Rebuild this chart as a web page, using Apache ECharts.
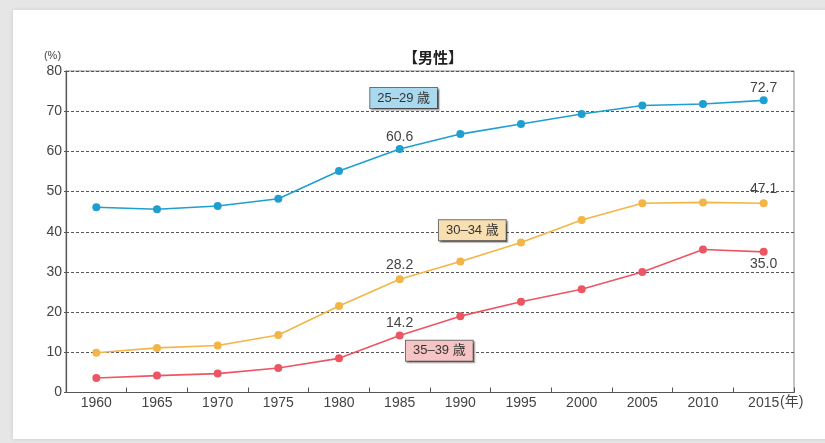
<!DOCTYPE html>
<html>
<head>
<meta charset="utf-8">
<script src="https://cdn.jsdelivr.net/npm/echarts@6/dist/echarts.min.js"></script>
<style>
  html, body { margin: 0; padding: 0; background: #e6e6e6; }
  #chart { width: 825px; height: 443px; }
</style>
</head>
<body>
<div id="chart"></div>
<script>
// Survey years on the x axis
const years = ['1960', '1965', '1970', '1975', '1980', '1985', '1990', '1995', '2000', '2005', '2010', '2015'];

// Unmarried rate of men by age group (%)
const age25to29 = [46.1, 45.6, 46.4, 48.2, 55.1, 60.6, 64.3, 66.8, 69.3, 71.4, 71.8, 72.7];
const age30to34 = [9.9, 11.1, 11.7, 14.3, 21.5, 28.2, 32.6, 37.3, 42.9, 47.1, 47.3, 47.1];
const age35to39 = [3.6, 4.2, 4.7, 6.1, 8.5, 14.2, 19.0, 22.6, 25.7, 30.0, 35.6, 35.0];

// Points whose values are printed on the chart, with label side
const labelled25 = { '1985': 'top', '2015': 'top' };
const labelled30 = { '1985': 'top', '2015': 'top' };
const labelled35 = { '1985': 'top', '2015': 'bottom' };

const yTicks = [0, 10, 20, 30, 40, 50, 60, 70, 80];

const FONT = '"Liberation Sans", Arial, "Noto Sans CJK JP", sans-serif';

function withLabels(values, marks, dist) {
  return values.map((v, i) => {
    const pos = marks[years[i]];
    if (!pos) return v;
    return {
      value: v,
      label: {
        show: true,
        position: pos,
        distance: pos === 'top' ? dist : 1,
        formatter: (p) => p.value.toFixed(1),
        color: '#444',
        fontSize: 14,
        fontFamily: FONT
      }
    };
  });
}

function nameTag(text, fill, coord, offset) {
  return {
    silent: true,
    symbol: 'rect',
    symbolSize: [1, 1],
    itemStyle: { color: 'rgba(0,0,0,0)' },
    label: {
      show: true,
      position: 'inside',
      formatter: text,
      color: '#333',
      fontSize: 13,
      fontFamily: FONT,
      backgroundColor: fill,
      borderColor: '#6f6f6f',
      borderWidth: 1,
      padding: [4, 7, 3, 7],
      shadowColor: 'rgba(0,0,0,0.35)',
      shadowOffsetX: 1.5,
      shadowOffsetY: 1.5,
      shadowBlur: 1
    },
    data: [{ coord: coord, label: { offset: offset } }]
  };
}

function lineSeries(name, values, color, marks, dist, tag) {
  return {
    name: name,
    type: 'line',
    data: withLabels(values, marks, dist),
    symbol: 'circle',
    symbolSize: 8,
    lineStyle: { color: color, width: 1.6 },
    itemStyle: { color: color },
    markPoint: tag,
    z: 3
  };
}

const chart = echarts.init(document.getElementById('chart'), null, { renderer: 'canvas' });

chart.setOption({
  animation: false,
  backgroundColor: 'transparent',
  graphic: [{
    type: 'rect',
    shape: { x: 13, y: 10, width: 830, height: 429 },
    style: { fill: '#ffffff', shadowColor: 'rgba(0,0,0,0.12)', shadowBlur: 4 },
    z: -10,
    silent: true
  }],
  title: {
    text: '【男性】',
    left: 428,
    top: 46,
    textAlign: 'center',
    textStyle: { fontSize: 15, fontWeight: 'bold', color: '#222', fontFamily: FONT }
  },
  grid: {
    left: 66, top: 71, right: 31, bottom: 50.5,
    show: true,
    borderColor: '#8a8a8a',
    borderWidth: 1,
    backgroundColor: 'transparent'
  },
  xAxis: {
    type: 'category',
    data: years,
    boundaryGap: true,
    name: '(年)',
    nameLocation: 'end',
    nameGap: -14,
    nameMoveOverlap: false,
    nameTextStyle: {
      color: '#444', fontSize: 14, fontFamily: FONT,
      align: 'left', verticalAlign: 'top', padding: [3, 0, 0, 0]
    },
    axisLine: { show: true, lineStyle: { color: '#555', width: 1.2 } },
    axisTick: { show: true, inside: true, length: 5, lineStyle: { color: '#555' } },
    axisLabel: { color: '#444', fontSize: 14, fontFamily: FONT, margin: 4 },
    splitLine: { show: false }
  },
  yAxis: {
    type: 'value',
    min: yTicks[0],
    max: yTicks[yTicks.length - 1],
    interval: 10,
    name: '(%)',
    nameLocation: 'end',
    nameGap: 10,
    nameMoveOverlap: false,
    nameTextStyle: {
      color: '#444', fontSize: 11, fontFamily: FONT,
      align: 'center', padding: [0, 27, 0, 0]
    },
    axisLine: { show: true, lineStyle: { color: '#555', width: 1.2 } },
    axisTick: { show: true, length: 2, lineStyle: { color: '#555' } },
    axisLabel: { color: '#444', fontSize: 14, fontFamily: FONT, margin: 4 },
    splitLine: { show: true, lineStyle: { color: '#555', type: [3, 2], width: 1 } }
  },
  series: [
    lineSeries('25–29 歳', age25to29, '#1f9fcf', labelled25, 1,
      nameTag('25–29 歳', '#a9d9ef', ['1985', 73.3], [4, 0])),
    lineSeries('30–34 歳', age30to34, '#f3b547', labelled30, 3,
      nameTag('30–34 歳', '#f8dfb2', ['1990', 40.4], [12, 0])),
    lineSeries('35–39 歳', age35to39, '#ec5663', labelled35, 1,
      nameTag('35–39 歳', '#f6c4c4', ['1990', 10.4], [-21, 0]))
  ]
});
</script>
</body>
</html>
